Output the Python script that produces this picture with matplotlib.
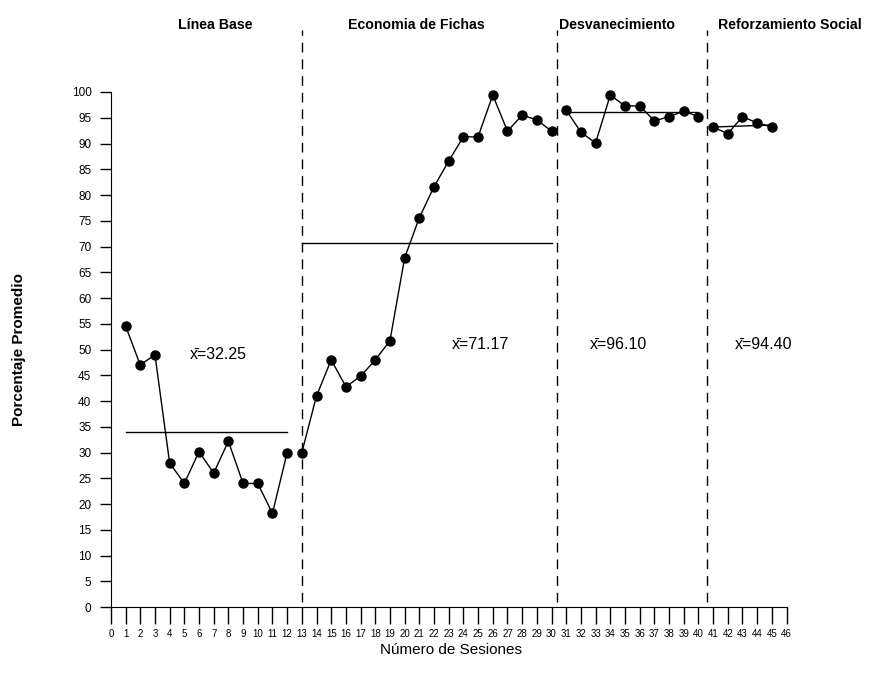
import matplotlib
matplotlib.use('Agg')
import matplotlib.pyplot as plt

# session data per phase
fase_nombres = ["Línea Base", "Economia de Fichas", "Desvanecimiento", "Reforzamiento Social"]
sesiones_base = list(range(1, 13))
valores_base = [54.6, 47, 49, 28, 24, 30.2, 26, 32.2, 24, 24, 18.2, 30]
sesiones_fichas = list(range(13, 31))
valores_fichas = [30, 41, 48, 42.8, 44.8, 48, 51.7, 67.8, 75.6, 81.6, 86.6, 91.3,
                  91.3, 99.4, 92.4, 95.5, 94.6, 92.4]
sesiones_desv = list(range(31, 41))
valores_desv = [96.5, 92.2, 90.1, 99.4, 97.3, 97.3, 94.4, 95.2, 96.3, 95.2]
sesiones_social = list(range(41, 46))
valores_social = [93.2, 91.9, 95.2, 94, 93.2]

# drawn mean lines (start x, end x, start y, end y) and labels
media_x0 = [1, 13, 31, 41]
media_x1 = [12, 30, 40, 45]
media_y0 = [34, 70.7, 96.1, 93.2]
media_y1 = [34, 70.7, 96.1, 93.6]
media_textos = ["x̄=32.25", "x̄=71.17", "x̄=96.10", "x̄=94.40"]
cambios_fase = [13, 30.4, 40.6]

fam = ['Liberation Sans Narrow', 'Liberation Sans', 'DejaVu Sans']

fig = plt.figure(figsize=(8.73, 6.86), dpi=100)
ax = fig.add_axes([0.127, 0.115, 0.779, 0.841])

for xs, ys in [(sesiones_base, valores_base), (sesiones_fichas, valores_fichas),
               (sesiones_desv, valores_desv), (sesiones_social, valores_social)]:
    ax.plot(xs, ys, color='black', lw=1.0, marker='o', markersize=6.5, zorder=3)

for x0, x1, y0, y1 in zip(media_x0, media_x1, media_y0, media_y1):
    ax.plot([x0, x1], [y0, y1], color='black', lw=1.0)

for xc in cambios_fase:
    ax.plot([xc, xc], [1, 112], color='black', lw=1.0, dashes=(7, 5))

pos_texto = [(5.4, 49), (23.2, 51), (32.6, 51), (42.5, 51)]
for (tx, ty), t in zip(pos_texto, media_textos):
    ax.text(tx, ty, t, fontsize=11.5, family=fam, va='center', ha='left')

# phase titles, placed in figure coords above the plot
pos_titulo = [0.246, 0.477, 0.707, 0.905]
for px, nombre in zip(pos_titulo, fase_nombres):
    fig.text(px, 0.963, nombre, fontsize=10.2, fontweight='bold', family=fam,
             ha='center', va='center')

ax.set_xlim(0, 46.3)
ax.set_ylim(0, 112)
ax.spines['top'].set_visible(False)
ax.spines['right'].set_visible(False)
ax.spines['left'].set_bounds(0, 100)
ax.spines['bottom'].set_bounds(0, 46)
ax.set_xticks(range(0, 47))
ax.set_xticklabels([str(i) for i in range(0, 47)], fontsize=7, family=fam)
ax.set_yticks(range(0, 101, 5))
ax.set_yticklabels([str(i) for i in range(0, 101, 5)], fontsize=8.5, family=fam)
ax.tick_params(axis='x', length=12, width=1, pad=4)
ax.tick_params(axis='y', length=8, width=1, pad=6)

ax.set_xlabel("Número de Sesiones", fontsize=11, family=fam, labelpad=3)
fig.text(0.022, 0.49, "Porcentaje Promedio", rotation=90, fontsize=11,
         fontweight='bold', family=fam, ha='center', va='center')

fig.savefig('out.png', dpi=100)
